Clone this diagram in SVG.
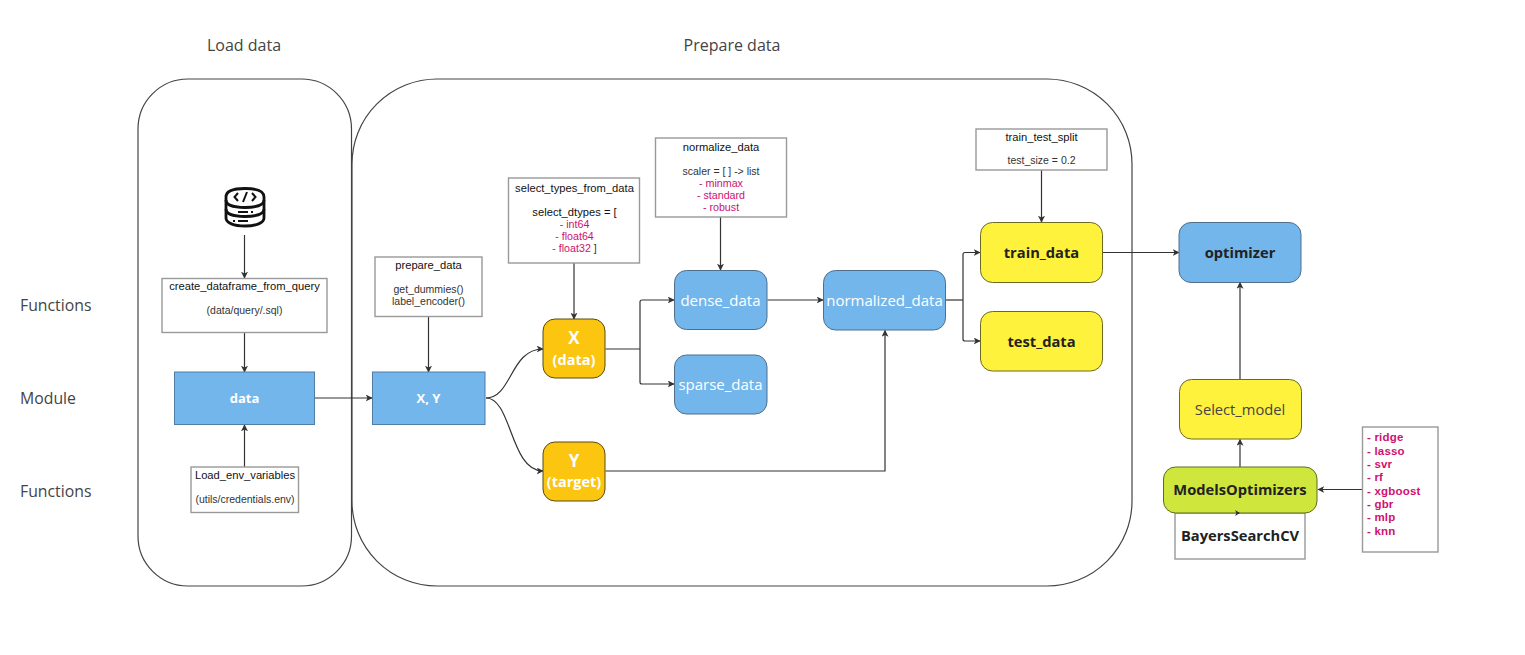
<svg xmlns="http://www.w3.org/2000/svg" width="1525" height="655" viewBox="0 0 1525 655">
<defs>
<marker id="arrow" viewBox="0 0 10 10" refX="9" refY="5" markerWidth="7" markerHeight="7" markerUnits="userSpaceOnUse" orient="auto"><path d="M0 0L10 5L0 10L2.500 5Z" fill="#333"/></marker>
</defs>
<style>
.bg{fill:#fff}
.frame{fill:#fff;stroke:#444;stroke-width:1.2}
.func{fill:#fff;stroke:#999;stroke-width:1.4}
.blue{fill:#73b6ec}
.round-blue{fill:#73b6ec;stroke:#4f6f8c;stroke-width:1}
.amber{fill:#fcc50f;stroke:#5a4a10;stroke-width:1}
.yellow{fill:#fff23c;stroke:#6b6a20;stroke-width:1}
.green{fill:#cfe63c;stroke:#5f6a20;stroke-width:1}
.conn{fill:none;stroke:#333;stroke-width:1.2;marker-end:url(#arrow)}
.plain{fill:none;stroke:#333;stroke-width:1.2}
text{font-family:"Open Sans","Noto Sans",sans-serif;text-anchor:middle}
.head{font-size:16px;fill:#444}
.side{font-size:15.800px;fill:#444;text-anchor:start}
.small{font-family:"Liberation Sans",Arial,sans-serif;font-size:11.200px;fill:#111}
.body{font-family:"Liberation Sans",Arial,sans-serif;font-size:10.500px;fill:#333}
.pink{font-family:"Liberation Sans",Arial,sans-serif;font-size:10.700px;fill:#d0106f}
.pinkb{font-family:"Liberation Sans",Arial,sans-serif;font-size:11.500px;font-weight:bold;fill:#d0106f;text-anchor:start;letter-spacing:.2px}
.wb{font-size:13px;font-weight:700;fill:#fff}
.wc{font-size:14.500px;font-weight:700;fill:#fff}
.wl{font-size:17px;font-weight:700;fill:#fff}
.w{font-size:15px;fill:#fff}
.db{font-size:14.700px;font-weight:700;fill:#222}
.pt{fill:#d0106f}
</style>
<rect class="bg" width="1525" height="655"/>
<g id="labels">
<text class="head" x="244" y="50.500">Load data</text>
<text class="head" x="732" y="50.500">Prepare data</text>
<text class="side" x="20" y="310.500">Functions</text>
<text class="side" x="20" y="403.500">Module</text>
<text class="side" x="20" y="496.500">Functions</text>
</g>
<g id="load-data-container"><rect class="frame" x="138" y="79" width="213.500" height="507" rx="50"/></g>
<g id="prepare-data-container"><rect class="frame" x="352" y="79" width="780" height="507" rx="85"/></g>
<g id="connectors">
<path class="conn" d="M244.500 235V278"/>
<path class="conn" d="M244.500 332.500V372"/>
<path class="conn" d="M244.500 467V425"/>
<path class="conn" d="M315 398H372"/>
<path class="conn" d="M428.500 316.500V372"/>
<path class="conn" d="M486 398C512 398 510 349 543 349"/>
<path class="conn" d="M486 398C512 398 510 471 543 471"/>
<path class="conn" d="M574 263V319"/>
<path class="plain" d="M605.500 349H640"/>
<path class="conn" d="M640 349V302Q640 300 642 300H674"/>
<path class="conn" d="M640 349V382Q640 384 642 384H674"/>
<path class="conn" d="M720.500 217V270"/>
<path class="conn" d="M767.500 300H823"/>
<path class="conn" d="M605.500 471H885V330.500"/>
<path class="plain" d="M946 300H963"/>
<path class="conn" d="M963 300V254.500Q963 252.500 965 252.500H980"/>
<path class="conn" d="M963 300V339Q963 341 965 341H980"/>
<path class="conn" d="M1041.500 170V222"/>
<path class="conn" d="M1103 252.500H1179"/>
<path class="conn" d="M1240 379V282.500"/>
<path class="conn" d="M1240 467V439.500"/>
<path class="conn" d="M1362 489.500H1318"/>
</g>
<g id="db-icon" fill="none" stroke="#111" stroke-width="2.800">
<path d="M226 197C226 191 234 188.500 245 188.500S264 191 264 197V218C264 223 256 226 245 226S226 223 226 218Z"/>
<path d="M226 200C226 205 234 207.500 245 207.500S264 205 264 200M226 209C226 214 234 216.500 245 216.500S264 214 264 209"/>
<path stroke-width="2" d="M238 193L234.500 197L238 201M252 193L255.500 197L252 201M247 192L243 202M238 212H248M251 212H253M238 221H248M233 221H235"/>
</g>
<g id="create_dataframe_from_query"><rect class="func" x="162" y="278.500" width="165" height="54"/><text class="small" x="244.500" y="290">create_dataframe_from_query</text><text class="body" x="244.500" y="314">(data/query/.sql)</text></g>
<g id="data"><rect class="blue" x="174.500" y="372" width="140" height="52.500" stroke="#4f7da6"/><text class="wb" x="244.500" y="403">data</text></g>
<g id="load_env_variables"><rect class="func" x="191" y="467" width="107.500" height="45.500"/><text class="small" x="245" y="479">Load_env_variables</text><text class="body" x="245" y="503">(utils/credentials.env)</text></g>
<g id="x-y"><rect class="blue" x="372.500" y="372" width="112.500" height="52.500" stroke="#4f7da6"/><text class="wb" x="428.500" y="403">X, Y</text></g>
<g id="prepare_data"><rect class="func" x="375" y="257" width="107" height="59.500"/><text class="small" x="428.500" y="269">prepare_data</text><text class="body" x="428.500" y="293">get_dummies()</text><text class="body" x="428.500" y="305">label_encoder()</text></g>
<g id="select_types_from_data"><rect class="func" x="508.500" y="178" width="131" height="85"/><text class="small" x="574.500" y="192">select_types_from_data</text><text class="small" x="574.500" y="215.500">select_dtypes = [</text><text class="pink" x="574.500" y="227.500">- int64</text><text class="pink" x="574.500" y="239.500">- float64</text><text class="pink" x="574.500" y="251.500">- float32<tspan style="fill:#333"> ]</tspan></text></g>
<g id="normalize_data"><rect class="func" x="655.500" y="138" width="131" height="79"/><text class="small" x="721" y="151">normalize_data</text><text class="body" x="721" y="175">scaler = [ ] -&gt; list</text><text class="pink" x="721" y="187">- minmax</text><text class="pink" x="721" y="199">- standard</text><text class="pink" x="721" y="211">- robust</text></g>
<g id="train_test_split"><rect class="func" x="976" y="129" width="131" height="41"/><text class="small" x="1041.500" y="141">train_test_split</text><text class="body" x="1041.500" y="164">test_size = 0.2</text></g>
<g id="x-data"><rect class="amber" x="543" y="319" width="62" height="59" rx="12"/><text class="wl" x="574" y="344">X</text><text class="wc" x="574" y="365">(data)</text></g>
<g id="y-target"><rect class="amber" x="543" y="442" width="62" height="59" rx="12"/><text class="wl" x="574" y="467">Y</text><text class="wc" x="574" y="487">(target)</text></g>
<g id="dense_data"><rect class="round-blue" x="674.500" y="270.500" width="92.500" height="59" rx="12"/><text class="w" x="720.500" y="306">dense_data</text></g>
<g id="sparse_data"><rect class="round-blue" x="674.500" y="355" width="92.500" height="59" rx="12"/><text class="w" x="720.500" y="390">sparse_data</text></g>
<g id="normalized_data"><rect class="round-blue" x="823.500" y="270.500" width="122" height="59.500" rx="12"/><text class="w" x="884.500" y="305.500">normalized_data</text></g>
<g id="train_data"><rect class="yellow" x="980.500" y="222.500" width="122" height="60" rx="12"/><text class="db" x="1041.500" y="258">train_data</text></g>
<g id="test_data"><rect class="yellow" x="980.500" y="311.500" width="122" height="59.500" rx="12"/><text class="db" x="1041.500" y="347">test_data</text></g>
<g id="optimizer"><rect class="round-blue" x="1179" y="222.500" width="122" height="60" rx="12"/><text class="db" x="1240" y="258">optimizer</text></g>
<g id="select_model"><rect class="yellow" x="1179.500" y="379.500" width="122" height="59.500" rx="12"/><text x="1240" y="415" font-size="14.700" fill="#444">Select_model</text></g>
<g id="bayerssearchcv"><rect class="func" x="1175" y="513" width="130" height="46"/><text class="db" x="1240" y="541">BayersSearchCV</text></g>
<g id="modelsoptimizers"><rect class="green" x="1163.500" y="467" width="153.500" height="46" rx="12"/><text class="db" x="1240" y="495">ModelsOptimizers</text><path d="M1236 513H1239" stroke="#333"/><path d="M1235 510L1240 513L1235 516L1236.500 513Z" fill="#333"/></g>
<g id="model-list"><rect class="func" x="1362.500" y="427" width="75.500" height="125"/>
<text class="pinkb" x="1367" y="441">- ridge</text><text class="pinkb" x="1367" y="454.500">- lasso</text><text class="pinkb" x="1367" y="468">- svr</text><text class="pinkb" x="1367" y="481">- rf</text><text class="pinkb" x="1367" y="494.500">- xgboost</text><text class="pinkb" x="1367" y="508">- gbr</text><text class="pinkb" x="1367" y="521">- mlp</text><text class="pinkb" x="1367" y="534.500">- knn</text></g>
</svg>
